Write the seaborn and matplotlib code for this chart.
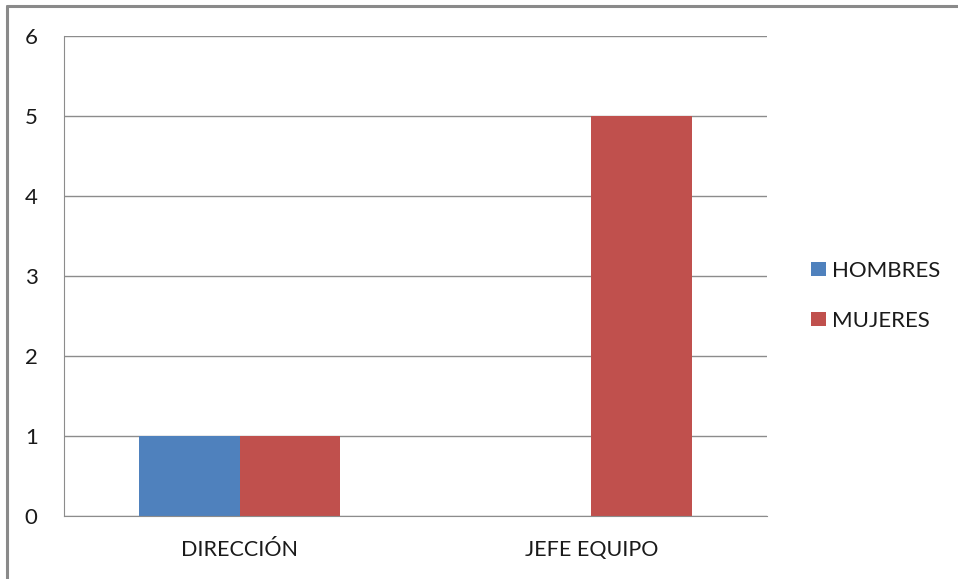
"""
plot.py

Grouped bar chart: HOMBRES / MUJERES by role.
"""

import matplotlib

matplotlib.use("Agg")

import matplotlib.pyplot as plt
import matplotlib.lines as mlines
import matplotlib.patches as mpatches
import pandas as pd
import seaborn as sns


# ==========================================================
# Data
# ==========================================================

categories = ["DIRECCIÓN", "JEFE EQUIPO"]

hombres = [1, 0]
mujeres = [1, 5]

series_names = ["HOMBRES", "MUJERES"]
series_colors = ["#4F81BD", "#C0504D"]

y_ticks = [0, 1, 2, 3, 4, 5, 6]


# ==========================================================
# Build table
# ==========================================================

dataframe = pd.DataFrame({
    "Categoria": categories * 2,
    "Serie": [series_names[0]] * len(categories) + [series_names[1]] * len(categories),
    "Valor": hombres + mujeres,
})


# ==========================================================
# Plot
# ==========================================================

sns.set_style("white")
plt.rcParams["font.family"] = ["Lato", "DejaVu Sans"]

fig = plt.figure(figsize=(9.58, 5.79), dpi=100)

ax = fig.add_axes([0.0668, 0.1088, 0.7338, 0.8290])

sns.barplot(
    data=dataframe,
    x="Categoria",
    y="Valor",
    hue="Serie",
    hue_order=series_names,
    palette=series_colors,
    width=0.573,
    saturation=1,
    linewidth=0,
    ax=ax,
    legend=False,
)

grid_color = "#8C8C8C"
text_color = "#1A1A1A"

ax.set_xlim(-0.5, len(categories) - 0.5)
ax.set_ylim(0, 6)
ax.set_yticks(y_ticks)
ax.set_yticklabels([str(t) for t in y_ticks], fontsize=16, color=text_color)

ax.yaxis.grid(True, color=grid_color, linewidth=1)
ax.set_axisbelow(True)

ax.set_xlabel("")
ax.set_ylabel("")
ax.tick_params(axis="x", length=0, labelsize=15.5, labelcolor=text_color, pad=17)
ax.tick_params(axis="y", length=5, width=1, color=grid_color, pad=14)

# category boundary ticks
ax.set_xticks([i - 0.5 for i in range(len(categories) + 1)], minor=True)
ax.tick_params(axis="x", which="minor", length=6, width=1, color=grid_color)

for side in ["top", "right"]:
    ax.spines[side].set_visible(False)

ax.spines["left"].set_color(grid_color)
ax.spines["bottom"].set_color(grid_color)

# ----------------------------------------------------------
# Legend
# ----------------------------------------------------------

handles = [
    mpatches.Patch(facecolor=color, edgecolor="none", label=name)
    for name, color in zip(series_names, series_colors)
]

fig.legend(
    handles=handles,
    loc="center left",
    bbox_to_anchor=(0.826, 0.489),
    frameon=False,
    fontsize=16,
    handlelength=0.65,
    handleheight=0.65,
    handletextpad=0.3,
    labelspacing=1.35,
    labelcolor=text_color,
)

# ----------------------------------------------------------
# Outer frame (top and left edges visible)
# ----------------------------------------------------------

frame_color = "#8A8A8A"
fig.add_artist(mlines.Line2D([0.0073, 1.0], [0.9896, 0.9896], color=frame_color, linewidth=2.2))
fig.add_artist(mlines.Line2D([0.0073, 0.0073], [0.0, 0.9896], color=frame_color, linewidth=2.2))

fig.savefig("out.png", dpi=100)
